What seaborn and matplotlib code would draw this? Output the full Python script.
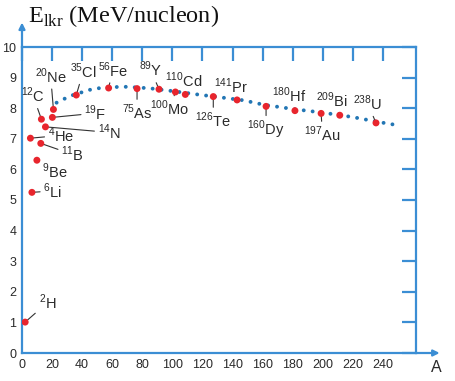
import matplotlib
matplotlib.use("Agg")
import matplotlib.pyplot as plt
import seaborn as sns
import pandas as pd

# nuclides as drawn: label mass number, symbol, position on A axis, binding energy
mass = [2, 4, 6, 9, 11, 12, 14, 19, 20, 35, 56, 75, 89, 100, 110, 126, 141, 160, 180, 197, 209, 238]
symbol = ["H", "He", "Li", "Be", "B", "C", "N", "F", "Ne", "Cl", "Fe", "As", "Y", "Mo",
          "Cd", "Te", "Pr", "Dy", "Hf", "Au", "Bi", "U"]
a_pos = [2.1, 5.6, 6.6, 9.9, 12.5, 12.9, 15.6, 20.2, 20.9, 36.1, 57.6, 76.5, 91.1, 102.0,
         108.6, 127.2, 143.0, 162.3, 181.5, 198.9, 211.3, 235.4]
energy = [1.01, 7.02, 5.25, 6.30, 6.85, 7.64, 7.39, 7.70, 7.96, 8.43, 8.66, 8.64, 8.62, 8.53,
          8.45, 8.38, 8.27, 8.06, 7.92, 7.83, 7.77, 7.52]

# dotted trend curve
curve_a = [23, 32, 45, 52, 60, 70, 85, 100, 118, 128, 147, 162, 171, 182, 191, 200, 211, 222, 236, 244, 252]
curve_e = [8.18, 8.40, 8.60, 8.66, 8.69, 8.70, 8.65, 8.56, 8.44, 8.38, 8.26, 8.10, 8.04, 7.96,
           7.91, 7.85, 7.78, 7.69, 7.56, 7.49, 7.43]

x_ticks = [0, 20, 40, 60, 80, 100, 120, 140, 160, 180, 200, 220, 240]
y_ticks = [0, 1, 2, 3, 4, 5, 6, 7, 8, 9, 10]

# label offsets in points (layout only)
offsets = {
    "H": (16, 14), "He": (22, 2), "Li": (15, 1), "Be": (13, -8), "B": (23, -8),
    "C": (-6, 17), "N": (46, -4), "F": (31, 3), "Ne": (-2, 24), "Cl": (5, 17),
    "Fe": (3, 13), "As": (0, -17), "Y": (-6, 14), "Mo": (-4, -12), "Cd": (-1, 10),
    "Te": (0, -17), "Pr": (-4, 10), "Dy": (0, -17), "Hf": (-4, 11), "Au": (1, -15),
    "Bi": (-6, 11), "U": (-6, 14),
}

df = pd.DataFrame({"A": a_pos, "E": energy, "mass": mass, "sym": symbol})
curve = pd.DataFrame({"A": curve_a, "E": curve_e})

sns.set_style("white")
plt.rcParams["font.family"] = ["Liberation Sans", "DejaVu Sans"]
plt.rcParams["mathtext.fontset"] = "custom"
plt.rcParams["mathtext.rm"] = "Liberation Serif"
plt.rcParams["mathtext.sf"] = "Liberation Sans"

blue = "#3b8ed4"
dot_blue = "#2276b4"
red = "#e8252d"
txt = "#2a2a2a"

fig = plt.figure(figsize=(4.56, 3.81), dpi=100)
ax = fig.add_axes([22 / 456, 28 / 381, 394 / 456, 306 / 381])

sns.lineplot(data=curve, x="A", y="E", ax=ax, color=dot_blue, linewidth=2.8,
             linestyle=(0, (0.01, 2.3)), dash_capstyle="round", sort=False, estimator=None)
sns.scatterplot(data=df, x="A", y="E", ax=ax, color=red, s=25, edgecolor="none", zorder=5)

for _, r in df.iterrows():
    ax.annotate(r"$^{\mathsf{%d}}$%s" % (r["mass"], r["sym"]), xy=(r["A"], r["E"]),
                xytext=offsets[r["sym"]], textcoords="offset points",
                ha="center", va="center", fontsize=10.5, color=txt,
                arrowprops=dict(arrowstyle="-", color="#333333", lw=0.8,
                                shrinkA=0, shrinkB=0))

ax.set_xlim(0, 262)
ax.set_ylim(0, 10)
ax.set_xticks(x_ticks)
ax.set_yticks(y_ticks)
ax.set_xlabel("")
ax.set_ylabel("")
for s in ax.spines.values():
    s.set_color(blue)
    s.set_linewidth(1.6)
ax.tick_params(direction="in", length=10, width=1.6, color=blue, top=True, right=True,
               labelsize=9, labelcolor=txt, pad=4)

# axis arrows
ax.annotate("", xy=(0, 1.08), xytext=(0, 1.0), xycoords="axes fraction",
            arrowprops=dict(arrowstyle="-|>", color=blue, lw=1.6, mutation_scale=9,
                            shrinkA=0, shrinkB=0))
ax.annotate("", xy=(1.06, 0), xytext=(1.0, 0), xycoords="axes fraction",
            arrowprops=dict(arrowstyle="-|>", color=blue, lw=1.6, mutation_scale=9,
                            shrinkA=0, shrinkB=0))

fig.text(436 / 456, 1 - 368 / 381, "A", fontsize=11.5, color=txt, ha="center", va="center")
fig.text(28 / 456, 1 - 16 / 381, r"E$_{\mathrm{lkr}}$ (MeV/nucleon)",
         fontsize=17.5, color="#111111", family="Liberation Serif", ha="left", va="center")

fig.savefig("out.png", dpi=100)
